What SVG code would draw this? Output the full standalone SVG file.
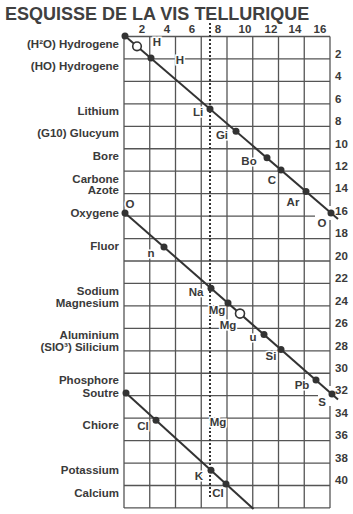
<svg xmlns="http://www.w3.org/2000/svg" width="353" height="514" viewBox="0 0 353 514">
<style>
text{font-family:"Liberation Sans",Arial,sans-serif;font-weight:bold;fill:#3a3a3a}
.title{font-size:18px;fill:#404040}
.lbl{font-size:11.5px;text-anchor:end}
.col{font-size:11.5px;text-anchor:middle}
.row{font-size:11.5px}
.pt{font-size:11.5px;text-anchor:middle;stroke:#fff;stroke-width:3;paint-order:stroke}
.grid line{stroke:#555;stroke-width:1.3}
.diag{stroke:#333;stroke-width:2;fill:none}
.dot{fill:#333}
.open{fill:#fff;stroke:#333;stroke-width:1.6}
.dotted{stroke:#333;stroke-width:2;stroke-dasharray:2 2}
</style>
<rect width="353" height="514" fill="#fff"/>
<text class="title" x="5" y="19.5">ESQUISSE DE LA VIS TELLURIQUE</text>
<g id="grid" class="grid">
<line x1="124" y1="36.5" x2="124" y2="508"/>
<line x1="149.75" y1="36.5" x2="149.75" y2="508"/>
<line x1="175.5" y1="36.5" x2="175.5" y2="508"/>
<line x1="201.25" y1="36.5" x2="201.25" y2="508"/>
<line x1="227" y1="36.5" x2="227" y2="508"/>
<line x1="252.75" y1="36.5" x2="252.75" y2="508"/>
<line x1="278.5" y1="36.5" x2="278.5" y2="508"/>
<line x1="304.25" y1="36.5" x2="304.25" y2="508"/>
<line x1="330" y1="36.5" x2="330" y2="206"/>
<line x1="330" y1="220" x2="330" y2="386"/>
<line x1="330" y1="406" x2="330" y2="508"/>
<line x1="124" y1="36.5" x2="330" y2="36.5"/>
<line x1="124" y1="58.95" x2="330" y2="58.95"/>
<line x1="124" y1="81.4" x2="330" y2="81.4"/>
<line x1="124" y1="103.85" x2="330" y2="103.85"/>
<line x1="124" y1="126.3" x2="330" y2="126.3"/>
<line x1="124" y1="148.75" x2="330" y2="148.75"/>
<line x1="124" y1="171.2" x2="330" y2="171.2"/>
<line x1="124" y1="193.65" x2="330" y2="193.65"/>
<line x1="124" y1="216.1" x2="315" y2="216.1"/>
<line x1="124" y1="238.55" x2="330" y2="238.55"/>
<line x1="124" y1="261" x2="330" y2="261"/>
<line x1="124" y1="283.45" x2="330" y2="283.45"/>
<line x1="124" y1="305.9" x2="330" y2="305.9"/>
<line x1="124" y1="328.35" x2="330" y2="328.35"/>
<line x1="124" y1="350.8" x2="330" y2="350.8"/>
<line x1="124" y1="373.25" x2="330" y2="373.25"/>
<line x1="124" y1="395.7" x2="318" y2="395.7"/>
<line x1="124" y1="418.15" x2="330" y2="418.15"/>
<line x1="124" y1="440.6" x2="330" y2="440.6"/>
<line x1="124" y1="463.05" x2="330" y2="463.05"/>
<line x1="124" y1="485.5" x2="330" y2="485.5"/>
<line x1="124" y1="507.95" x2="330" y2="507.95"/>
</g>
<line id="dotted-line" class="dotted" x1="210" y1="23" x2="210" y2="498"/>
<g id="column-labels">
<text class="col" x="142" y="33">2</text>
<text class="col" x="167" y="33">4</text>
<text class="col" x="192" y="33">6</text>
<text class="col" x="218" y="33">8</text>
<text class="col" x="245" y="33">10</text>
<text class="col" x="271" y="33">12</text>
<text class="col" x="295" y="33">14</text>
<text class="col" x="320" y="33">16</text>
</g>
<g id="row-labels">
<text class="row" x="335" y="57.5">2</text>
<text class="row" x="335" y="80">4</text>
<text class="row" x="335" y="102.5">6</text>
<text class="row" x="335" y="125">8</text>
<text class="row" x="335" y="147.5">10</text>
<text class="row" x="335" y="170">12</text>
<text class="row" x="335" y="192">14</text>
<text class="row" x="335" y="214.5">16</text>
<text class="row" x="335" y="237">18</text>
<text class="row" x="335" y="259.5">20</text>
<text class="row" x="335" y="282">22</text>
<text class="row" x="335" y="304.5">24</text>
<text class="row" x="335" y="327">26</text>
<text class="row" x="335" y="349.5">28</text>
<text class="row" x="335" y="372">30</text>
<text class="row" x="335" y="394">32</text>
<text class="row" x="335" y="416.5">34</text>
<text class="row" x="335" y="439">36</text>
<text class="row" x="335" y="461.5">38</text>
<text class="row" x="335" y="484">40</text>
</g>
<g id="element-names">
<text class="lbl" x="119" y="48">(H²O) Hydrogene</text>
<text class="lbl" x="119" y="70">(HO) Hydrogene</text>
<text class="lbl" x="119" y="115">Lithium</text>
<text class="lbl" x="119" y="137">(G10) Glucyum</text>
<text class="lbl" x="119" y="160">Bore</text>
<text class="lbl" x="119" y="183">Carbone</text>
<text class="lbl" x="119" y="194">Azote</text>
<text class="lbl" x="119" y="217">Oxygene</text>
<text class="lbl" x="119" y="250">Fluor</text>
<text class="lbl" x="119" y="295">Sodium</text>
<text class="lbl" x="119" y="307">Magnesium</text>
<text class="lbl" x="119" y="339">Aluminium</text>
<text class="lbl" x="119" y="351">(SIO³) Silicium</text>
<text class="lbl" x="119" y="384">Phosphore</text>
<text class="lbl" x="119" y="397">Soutre</text>
<text class="lbl" x="119" y="429">Chiore</text>
<text class="lbl" x="119" y="474">Potassium</text>
<text class="lbl" x="119" y="497">Calcium</text>
</g>
<g id="connectors">
<line class="diag" x1="125" y1="36" x2="338" y2="219"/>
<line class="diag" x1="125" y1="213" x2="338" y2="399.4"/>
<line class="diag" x1="126" y1="393" x2="253.5" y2="509"/>
</g>
<g id="n-H2O-start"><circle class="dot" cx="125" cy="36" r="3.5"/></g>
<g id="n-H1"><circle class="open" cx="137" cy="46.3" r="4.3"/><text class="pt" x="157" y="46">H</text></g>
<g id="n-H2"><circle class="dot" cx="151" cy="58" r="3.5"/><text class="pt" x="180" y="64">H</text></g>
<g id="n-Li"><circle class="dot" cx="210" cy="109" r="3.5"/><text class="pt" x="198" y="116">Li</text></g>
<g id="n-Gi"><circle class="dot" cx="236" cy="131.2" r="3.5"/><text class="pt" x="222" y="139">Gi</text></g>
<g id="n-Bo"><circle class="dot" cx="267" cy="157.8" r="3.5"/><text class="pt" x="249" y="165">Bo</text></g>
<g id="n-C"><circle class="dot" cx="281" cy="169.9" r="3.5"/><text class="pt" x="272" y="184">C</text></g>
<g id="n-Ar"><circle class="dot" cx="306" cy="191.4" r="3.5"/><text class="pt" x="293" y="206">Ar</text></g>
<g id="n-O16"><circle class="dot" cx="331" cy="212.9" r="3.5"/><text class="pt" x="322" y="227">O</text></g>
<g id="n-O"><circle class="dot" cx="125" cy="213" r="3.5"/><text class="pt" x="130" y="208">O</text></g>
<g id="n-n"><circle class="dot" cx="164" cy="247.1" r="3.5"/><text class="pt" x="151" y="257">n</text></g>
<g id="n-Na"><circle class="dot" cx="211" cy="288.3" r="3.5"/><text class="pt" x="196" y="296">Na</text></g>
<g id="n-Mg1"><circle class="dot" cx="228" cy="303.1" r="3.5"/><text class="pt" x="217" y="314">Mg</text></g>
<g id="n-Mg2"><circle class="open" cx="240" cy="313.6" r="4.5"/><text class="pt" x="228" y="329">Mg</text></g>
<g id="n-u"><circle class="dot" cx="264" cy="334.6" r="3.5"/><text class="pt" x="253" y="341">u</text></g>
<g id="n-Si"><circle class="dot" cx="281" cy="349.5" r="3.5"/><text class="pt" x="271" y="360">Si</text></g>
<g id="n-Pb"><circle class="dot" cx="316" cy="380.1" r="3.5"/><text class="pt" x="302" y="389">Pb</text></g>
<g id="n-S"><circle class="dot" cx="332" cy="394.1" r="3.5"/><text class="pt" x="322" y="406">S</text></g>
<g id="n-Soutre"><circle class="dot" cx="126" cy="393" r="3.5"/></g>
<g id="n-Cl1"><circle class="dot" cx="156" cy="420.3" r="3.5"/><text class="pt" x="143" y="430">Cl</text></g>
<g id="n-Mg3"><text class="pt" x="218" y="426">Mg</text></g>
<g id="n-K"><circle class="dot" cx="211" cy="470.3" r="3.5"/><text class="pt" x="199" y="480">K</text></g>
<g id="n-Cl2"><circle class="dot" cx="226" cy="484" r="3.5"/><text class="pt" x="218" y="497">Cl</text></g>
</svg>
